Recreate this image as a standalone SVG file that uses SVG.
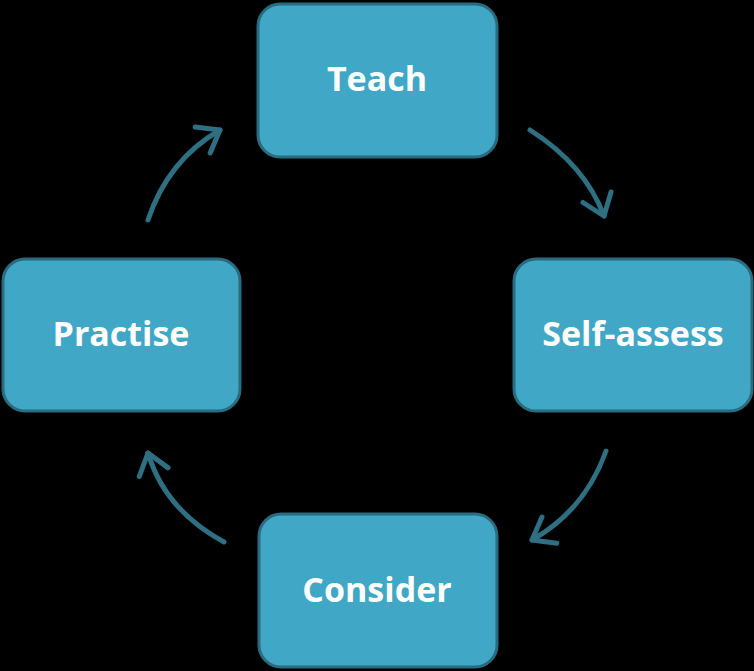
<svg xmlns="http://www.w3.org/2000/svg" width="754" height="671" viewBox="0 0 754 671">
<style>
.n{fill:#41a7c6;stroke:#2a6b80;stroke-width:3}
.t{font-family:"Open Sans","DejaVu Sans",sans-serif;font-weight:bold;font-size:34px;fill:#fff;text-anchor:middle}
.c{fill:none;stroke:#2e6f82;stroke-width:5;stroke-linecap:round}
</style>
<defs><marker id="a" markerWidth="8" markerHeight="8" refX="5" refY="4" orient="auto" markerUnits="strokeWidth"><path d="M1,1 L5,4 L1,7" fill="none" stroke="#2e6f82" stroke-width="1" stroke-linecap="round" stroke-linejoin="round"/></marker></defs>
<rect width="754" height="671" fill="#000"/>
<g id="connectors">
<path class="c" d="M530,130 Q585,165 604,216" marker-end="url(#a)"/>
<path class="c" d="M606,451 Q585,510 532,540" marker-end="url(#a)"/>
<path class="c" d="M224,542 Q165,510 148,453" marker-end="url(#a)"/>
<path class="c" d="M148,220 Q168,160 220,130" marker-end="url(#a)"/>
</g>
<g id="teach"><rect class="n" x="258" y="4" width="239" height="153" rx="22"/><text class="t" x="377" y="91">Teach</text></g>
<g id="selfassess"><rect class="n" x="514" y="259" width="238" height="152" rx="22"/><text class="t" x="633" y="346">Self-assess</text></g>
<g id="practise"><rect class="n" x="3" y="259" width="237" height="152" rx="22"/><text class="t" x="121" y="346">Practise</text></g>
<g id="consider"><rect class="n" x="259" y="514" width="238" height="153" rx="22"/><text class="t" x="377" y="602">Consider</text></g>
</svg>
